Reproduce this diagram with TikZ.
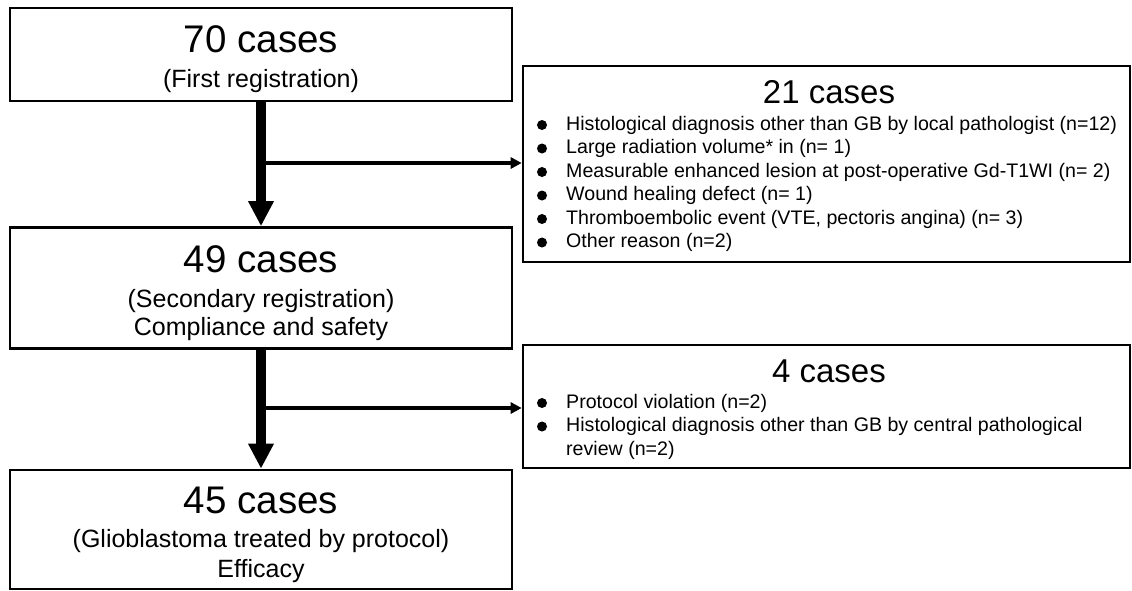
\documentclass[tikz,border=0pt]{standalone}
\usepackage{fontspec}
\setmainfont{Liberation Sans}
\usetikzlibrary{arrows.meta}
\begin{document}
\begin{tikzpicture}[x=1pt,y=-1pt,
  box/.style={draw=black,line width=2.6pt,rectangle,inner sep=0pt},
  bigtitle/.style={font=\fontsize{38.5}{40}\selectfont,inner sep=0pt,anchor=base},
  midtitle/.style={font=\fontsize{33}{35}\selectfont,inner sep=0pt,anchor=base},
  sub/.style={font=\fontsize{25}{27}\selectfont,inner sep=0pt,anchor=base},
  item/.style={font=\fontsize{19.6}{23.5}\selectfont,inner sep=0pt,anchor=base west},
  trunk/.style={line width=10pt,-{Triangle[length=25pt,width=24pt]}},
  branch/.style={line width=3.6pt,-{Triangle[length=11pt,width=11pt]}},
  dot/.style={fill=black}]
\useasboundingbox (0,0) rectangle (1132,590);
% left boxes
\node[box,minimum width=502pt,minimum height=93pt] (b1) at (261,54.5) {};
\node[box,minimum width=502pt,minimum height=121pt] (b2) at (261,288) {};
\node[box,minimum width=502pt,minimum height=119pt] (b3) at (261,529.5) {};
% right boxes
\node[box,minimum width=607pt,minimum height=196pt] (r1) at (826.5,164) {};
\node[box,minimum width=607pt,minimum height=123pt] (r2) at (826.5,406.5) {};
% texts left
\node[bigtitle] (t1a) at (261,52) {70 cases};
\node[sub] (t1b) at (261,87) {(First registration)};
\node[bigtitle] (t2a) at (261,272) {49 cases};
\node[sub] (t2b) at (261,307) {(Secondary registration)};
\node[sub] (t2c) at (261,335) {Compliance and safety};
\node[bigtitle] (t3a) at (261,513) {45 cases};
\node[sub] (t3b) at (261,547) {(Glioblastoma treated by protocol)};
\node[sub] (t3c) at (261,577) {Efficacy};
% right texts
\node[midtitle] (r1t) at (829,103) {21 cases};
\node[item] (i1) at (566,130) {Histological diagnosis other than GB by local pathologist (n=12)};
\node[item] (i2) at (566,153.5) {Large radiation volume* in (n= 1)};
\node[item] (i3) at (566,177) {Measurable enhanced lesion at post-operative Gd-T1WI (n= 2)};
\node[item] (i4) at (566,200.5) {Wound healing defect (n= 1)};
\node[item] (i5) at (566,224) {Thromboembolic event (VTE, pectoris angina) (n= 3)};
\node[item] (i6) at (566,247.5) {Other reason (n=2)};
\foreach \yy in {125,148.5,172,195.5,219,242.5} \fill[dot] (542,\yy) circle (5pt);
\node[midtitle] (r2t) at (829,382) {4 cases};
\node[item] (j1) at (566,408) {Protocol violation (n=2)};
\node[item] (j2) at (566,431.5) {Histological diagnosis other than GB by central pathological};
\node[item] (j3) at (566,455) {review (n=2)};
\foreach \yy in {403,426.5} \fill[dot] (542,\yy) circle (5pt);
% connectors
\draw[trunk] (b1.south) -- (b2.north);
\draw[trunk] (b2.south) -- (b3.north);
\coordinate (k1) at (260,163);
\coordinate (k2) at (260,408);
\draw[branch] (k1) -- (k1 -| r1.west);
\draw[branch] (k2) -- (k2 -| r2.west);
\end{tikzpicture}
\end{document}
